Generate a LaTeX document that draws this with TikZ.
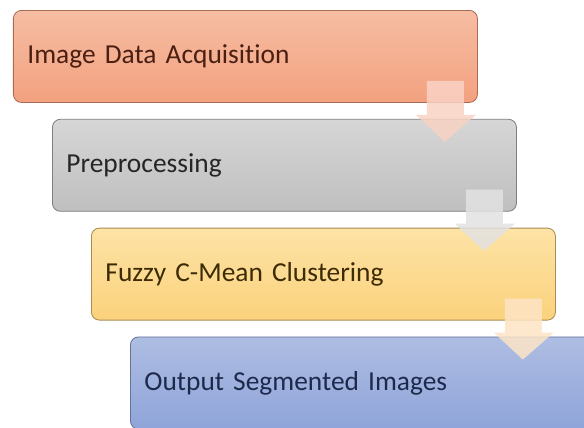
\documentclass[tikz,border=0pt]{standalone}
\usepackage{fontspec}
\setmainfont{Carlito}[Ligatures=NoCommon, WordSpace=0.7]
\usetikzlibrary{positioning}

\definecolor{acqtop}{HTML}{F6BDA3}
\definecolor{acqbot}{HTML}{F3A17F}
\definecolor{acqline}{HTML}{A86C55}
\definecolor{acqtext}{HTML}{4A1F12}
\definecolor{pretop}{HTML}{D6D6D6}
\definecolor{prebot}{HTML}{BFBFBF}
\definecolor{preline}{HTML}{7F7F7F}
\definecolor{pretext}{HTML}{262626}
\definecolor{fcmtop}{HTML}{FDE3A6}
\definecolor{fcmbot}{HTML}{FBD27C}
\definecolor{fcmline}{HTML}{A88C50}
\definecolor{fcmtext}{HTML}{3D2B05}
\definecolor{outtop}{HTML}{AEBDE2}
\definecolor{outbot}{HTML}{8FA4D9}
\definecolor{outline}{HTML}{64739A}
\definecolor{outtext}{HTML}{1E2A4C}
\definecolor{flowA}{HTML}{F9D2C4}
\definecolor{flowB}{HTML}{E2E2E2}
\definecolor{flowC}{HTML}{FDE4C6}

\begin{document}
\begin{tikzpicture}[node distance=0.4cm,
  stage/.style={rounded corners=0.2cm, text width=10.9cm, inner xsep=0.35cm,
    minimum height=2.3cm, align=left, line width=0.6pt,
    font=\fontsize{19.5}{22}\selectfont}]
\useasboundingbox (0,0) rectangle (14.6,-10.675);
\node [stage, anchor=north west, draw=acqline, top color=acqtop, bottom color=acqbot, text=acqtext]
  (acq) at (0.325,-0.25) {Image Data Acquisition};
\node [stage, draw=preline, top color=pretop, bottom color=prebot, text=pretext]
  (pre) [below=of acq.south west, anchor=north west, xshift=0.975cm] {Preprocessing};
\node [stage, draw=fcmline, top color=fcmtop, bottom color=fcmbot, text=fcmtext]
  (fcm) [below=of pre.south west, anchor=north west, xshift=0.975cm] {Fuzzy C-Mean Clustering};
\node [stage, draw=outline, top color=outtop, bottom color=outbot, text=outtext]
  (out) [below=of fcm.south west, anchor=north west, xshift=0.975cm] {Output Segmented Images};
% block arrows between the stages
\foreach \from/\col in {acq/flowA, pre/flowB, fcm/flowC}
  \fill [\col, fill opacity=0.85, shift={(\from.south east)}]
    (-1.275,0.55) -- (-0.35,0.55) -- (-0.35,-0.3) -- (-0.05,-0.3)
    -- (-0.825,-0.975) -- (-1.55,-0.3) -- (-1.275,-0.3) -- cycle;
\end{tikzpicture}
\end{document}
